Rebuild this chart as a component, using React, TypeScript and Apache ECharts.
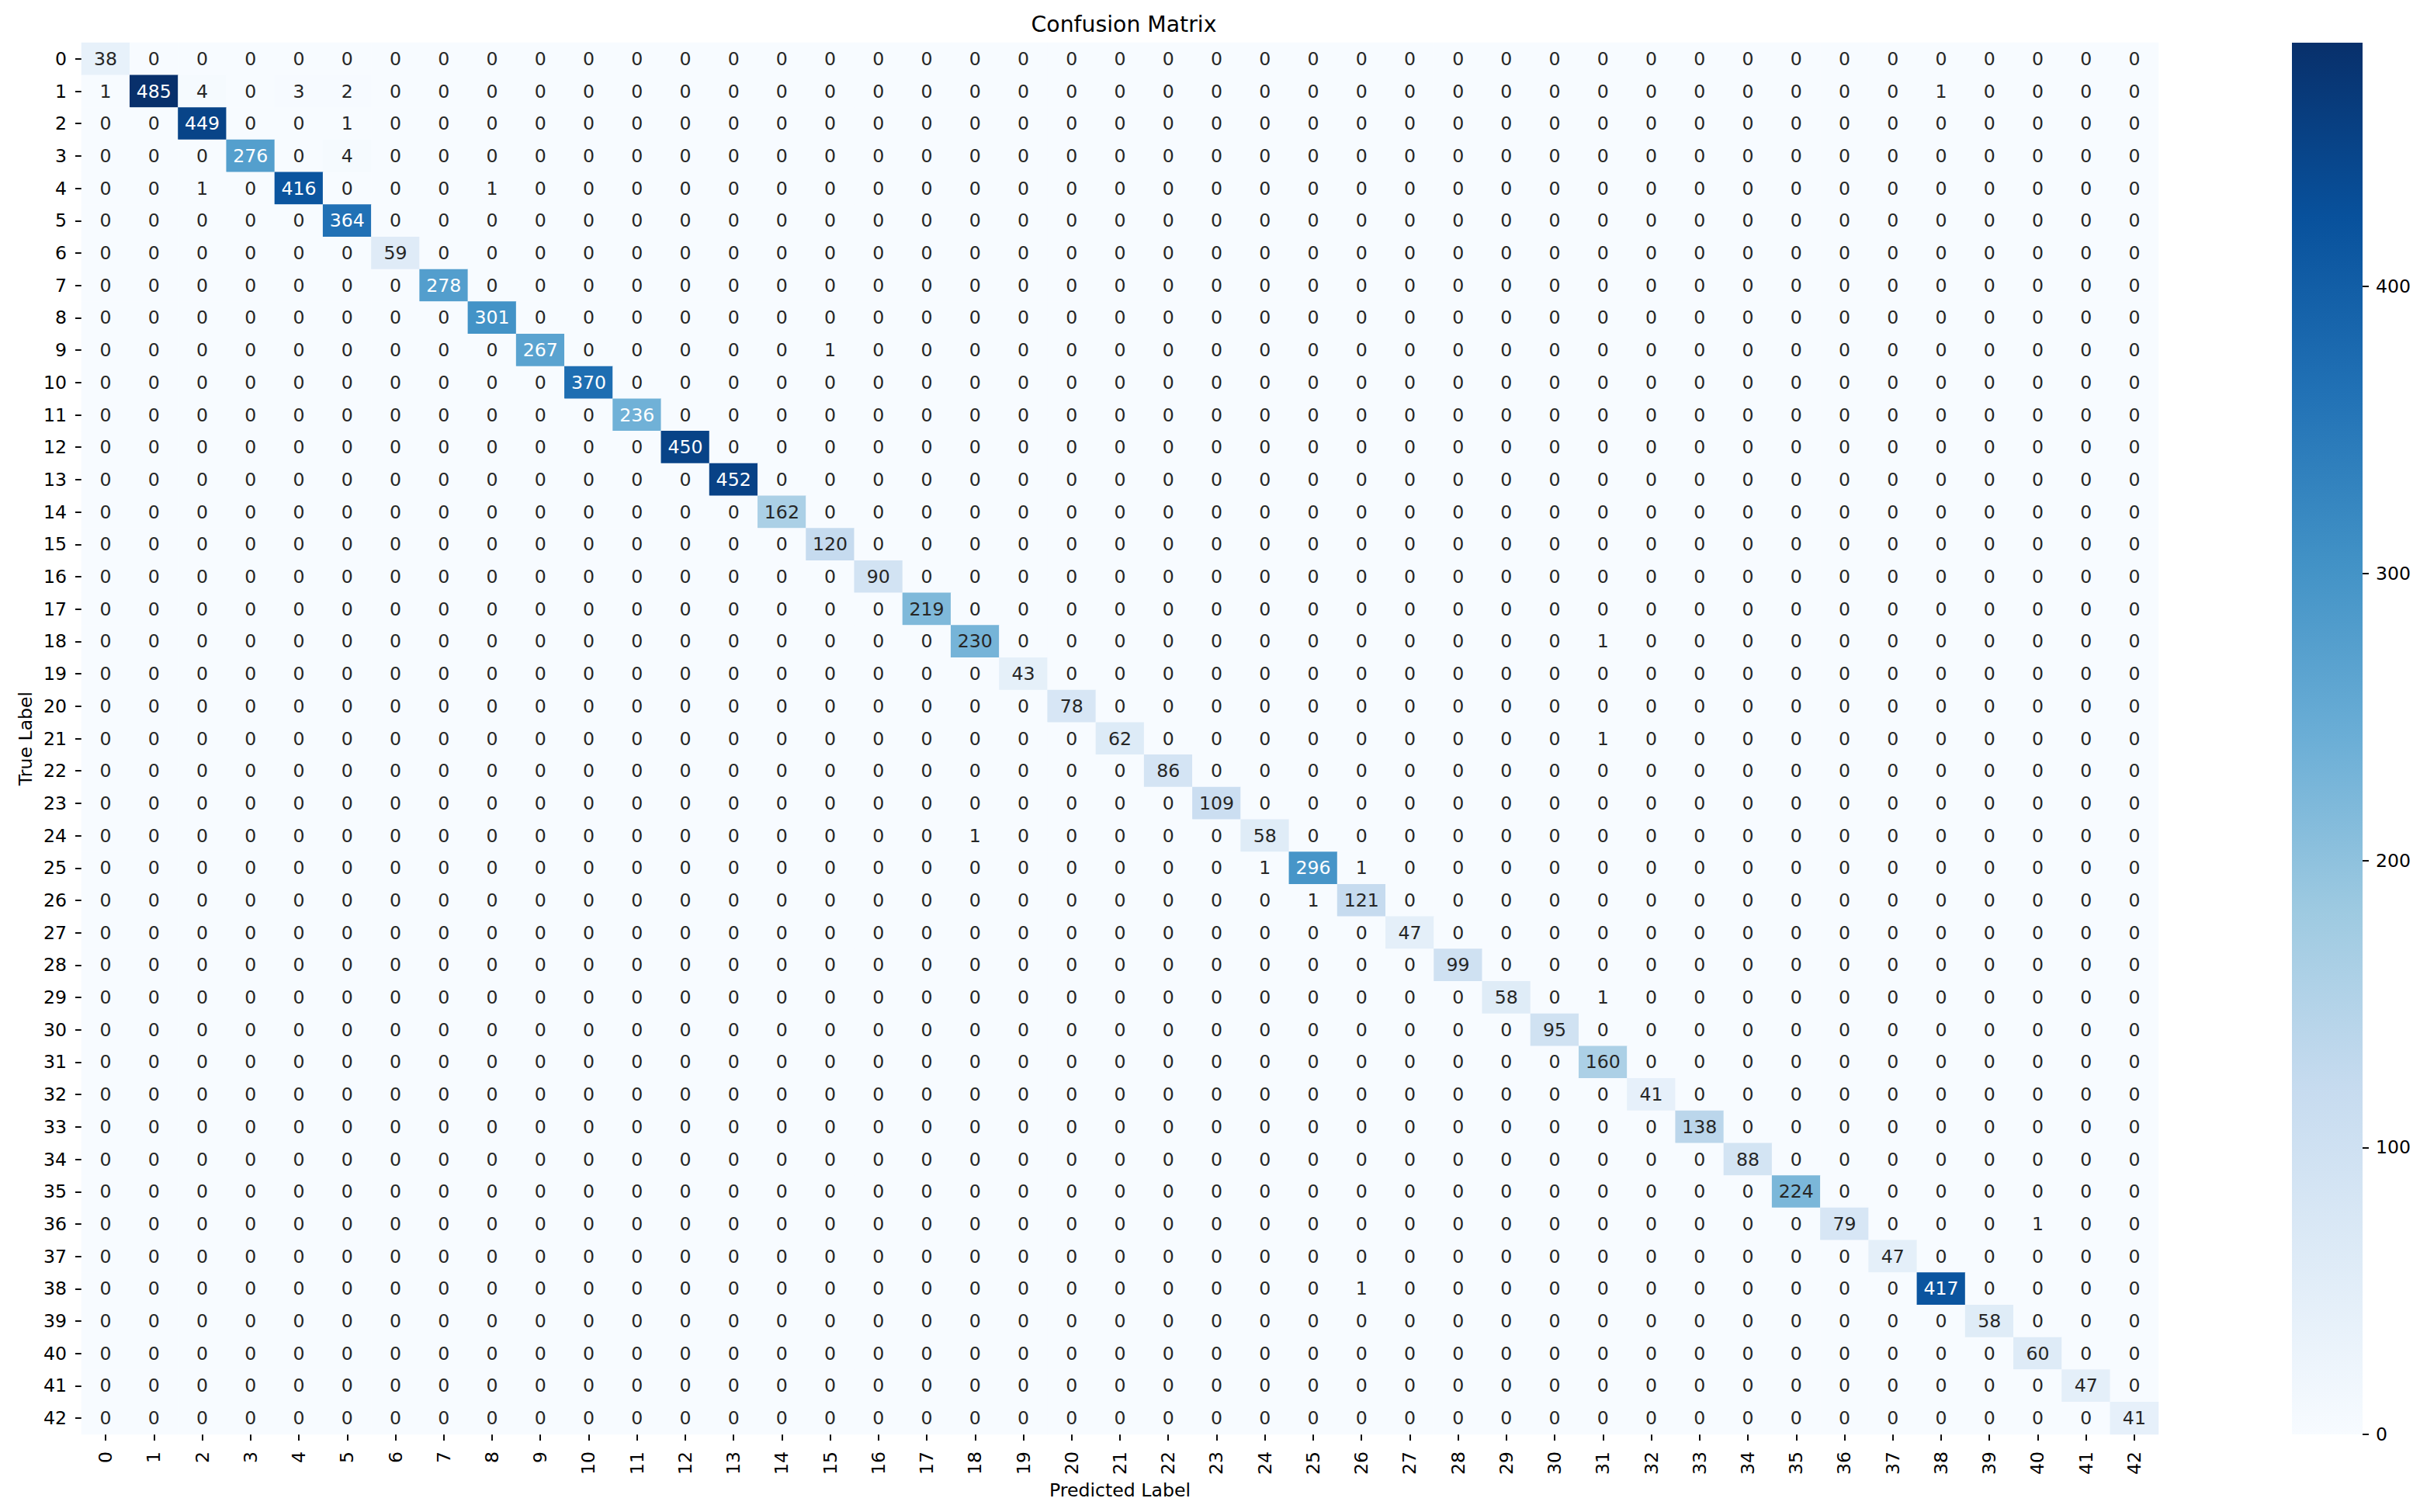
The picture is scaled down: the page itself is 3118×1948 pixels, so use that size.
import React, { useEffect, useRef } from 'react';
import * as echarts from 'echarts';

const classLabels = [
  '0', '1', '2', '3', '4', '5', '6', '7', '8', '9', '10', '11', '12', '13', '14',
  '15', '16', '17', '18', '19', '20', '21', '22', '23', '24', '25', '26', '27', '28',
  '29', '30', '31', '32', '33', '34', '35', '36', '37', '38', '39', '40', '41', '42',
];

// correct predictions (row i, column i)
const diagonalCounts = [
  38, 485, 449, 276, 416, 364, 59, 278, 301, 267, 370, 236, 450, 452, 162, 120, 90,
  219, 230, 43, 78, 62, 86, 109, 58, 296, 121, 47, 99, 58, 95, 160, 41, 138, 88, 224,
  79, 47, 417, 58, 60, 47, 41,
];

// misclassifications: [true label, predicted label, count]
const offDiagonalCounts: [number, number, number][] = [
  [1, 0, 1], [1, 2, 4], [1, 4, 3], [1, 5, 2], [1, 38, 1],
  [2, 5, 1], [3, 5, 4], [4, 2, 1], [4, 8, 1], [9, 15, 1],
  [18, 31, 1], [21, 31, 1], [24, 18, 1], [25, 24, 1], [25, 26, 1],
  [26, 25, 1], [29, 31, 1], [36, 40, 1], [38, 26, 1],
];

const colorbarTicks = [0, 100, 200, 300, 400];

const bluesStops = [
  '#f7fbff', '#deebf7', '#c6dbef', '#9ecae1', '#6baed6',
  '#4292c6', '#2171b5', '#08519c', '#08306b',
];

const FONT = 'DejaVu Sans';
const FS = 23.6;

function hexToRgb(h: string): number[] {
  return [1, 3, 5].map((i) => parseInt(h.slice(i, i + 2), 16));
}

function bluesColor(t: number): number[] {
  const n = bluesStops.length - 1;
  const p = Math.min(Math.max(t, 0), 1) * n;
  const i = Math.min(Math.floor(p), n - 1);
  const f = p - i;
  const a = hexToRgb(bluesStops[i]);
  const b = hexToRgb(bluesStops[i + 1]);
  return a.map((v, k) => v + (b[k] - v) * f);
}

function luminance(rgb: number[]): number {
  const lin = rgb.map((c) => {
    const v = c / 255;
    return v <= 0.03928 ? v / 12.92 : Math.pow((v + 0.055) / 1.055, 2.4);
  });
  return 0.2126 * lin[0] + 0.7152 * lin[1] + 0.0722 * lin[2];
}

export default function App() {
  const ref = useRef<HTMLDivElement>(null);

  useEffect(() => {
    if (!ref.current) return;
    document.body.style.margin = '0';
    const chart = echarts.init(ref.current, undefined, { renderer: 'svg' });

    const n = classLabels.length;
    const matrix: number[][] = classLabels.map((_, r) =>
      classLabels.map((__, c) => (r === c ? diagonalCounts[r] : 0))
    );
    offDiagonalCounts.forEach(([r, c, v]) => {
      matrix[r][c] = v;
    });
    let vmax = 0;
    matrix.forEach((row) => row.forEach((v) => (vmax = Math.max(vmax, v))));

    const data: any[] = [];
    for (let r = 0; r < n; r++) {
      for (let c = 0; c < n; c++) {
        const v = matrix[r][c];
        const lum = luminance(bluesColor(v / vmax));
        data.push({
          value: [c, r, v],
          label: { color: lum > 0.408 ? '#262626' : '#ffffff' },
        });
      }
    }

    const axisTextStyle = { fontFamily: FONT, fontSize: FS, color: '#000000' };

    chart.setOption({
      animation: false,
      backgroundColor: '#ffffff',
      textStyle: { fontFamily: FONT },
      title: {
        text: 'Confusion Matrix',
        left: 1443,
        top: 12,
        textAlign: 'center',
        textStyle: { fontFamily: FONT, fontSize: 28.3, fontWeight: 'normal', color: '#000000' },
      },
      grid: [
        { left: 105, top: 55, width: 2676, height: 1793, containLabel: false, outerBoundsMode: 'none' },
        { left: 2953, top: 55, width: 91, height: 1793, containLabel: false, outerBoundsMode: 'none' },
      ],
      xAxis: [
        {
          type: 'category',
          gridIndex: 0,
          data: classLabels,
          position: 'bottom',
          name: 'Predicted Label',
          nameLocation: 'middle',
          nameGap: 53,
          nameTextStyle: axisTextStyle,
          axisLine: { show: false },
          axisTick: { show: true, alignWithLabel: true, interval: 0, length: 8, lineStyle: { color: '#000', width: 1.9 } },
          axisLabel: { ...axisTextStyle, interval: 0, rotate: 90, margin: 22 },
          splitLine: { show: false },
          splitArea: { show: false },
        },
        {
          type: 'category',
          gridIndex: 1,
          data: ['cbar'],
          show: false,
        },
      ],
      yAxis: [
        {
          type: 'category',
          gridIndex: 0,
          data: classLabels,
          inverse: true,
          name: 'True Label',
          nameLocation: 'middle',
          nameGap: 59,
          nameTextStyle: axisTextStyle,
          axisLine: { show: false },
          axisTick: { show: true, alignWithLabel: true, interval: 0, length: 8, lineStyle: { color: '#000', width: 1.9 } },
          axisLabel: { ...axisTextStyle, interval: 0, margin: 19 },
          splitLine: { show: false },
          splitArea: { show: false },
        },
        {
          type: 'value',
          gridIndex: 1,
          position: 'right',
          min: 0,
          max: vmax,
          interval: 100,
          axisLine: { show: false },
          axisTick: {
            show: true,
            length: 8,
            customValues: colorbarTicks,
            lineStyle: { color: '#000', width: 1.9 },
          },
          axisLabel: { ...axisTextStyle, margin: 17, customValues: colorbarTicks },
          splitLine: { show: false },
        },
      ],
      visualMap: {
        show: false,
        type: 'continuous',
        seriesIndex: 0,
        dimension: 2,
        min: 0,
        max: vmax,
        inRange: { color: bluesStops },
      },
      series: [
        {
          type: 'heatmap',
          xAxisIndex: 0,
          yAxisIndex: 0,
          data,
          silent: true,
          itemStyle: { borderWidth: 0 },
          label: {
            show: true,
            fontFamily: FONT,
            fontSize: FS,
            formatter: (p: any) => String(p.value[2]),
          },
          emphasis: { disabled: true },
        },
        {
          type: 'bar',
          xAxisIndex: 1,
          yAxisIndex: 1,
          data: [vmax],
          barWidth: '100%',
          silent: true,
          itemStyle: {
            color: new echarts.graphic.LinearGradient(
              0, 1, 0, 0,
              bluesStops.map((c, i) => ({ offset: i / (bluesStops.length - 1), color: c }))
            ),
          },
        },
      ],
    });

    return () => chart.dispose();
  }, []);

  return (
    <div
      ref={ref}
      style={{ position: 'absolute', left: 0, top: 0, width: 3118, height: 1948 }}
    />
  );
}
